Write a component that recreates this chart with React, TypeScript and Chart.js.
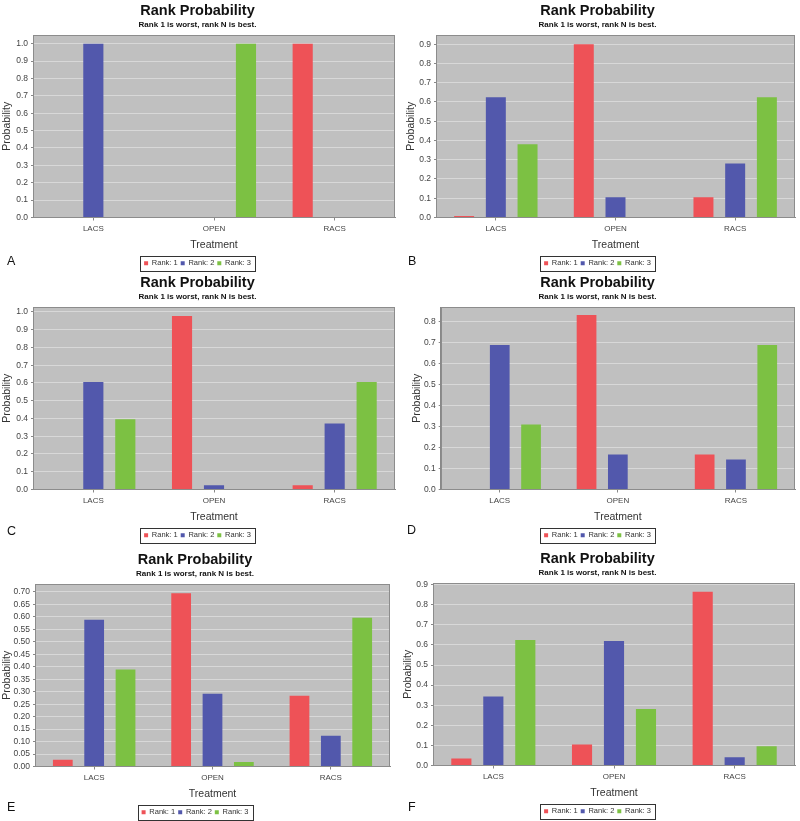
import React, { useEffect, useRef } from 'react';
import { Chart, registerables } from 'chart.js';

Chart.register(...registerables);
Chart.defaults.font.family = "'Liberation Sans', Arial, sans-serif";

const categories = ['LACS', 'OPEN', 'RACS'];
const seriesLabels = ['Rank: 1', 'Rank: 2', 'Rank: 3'];
const seriesColors = ['#EE5257', '#5258AC', '#7CC143'];
const titleText = 'Rank Probability';
const subtitleText = 'Rank 1 is worst, rank N is best.';
const xTitleText = 'Treatment';
const yTitleText = 'Probability';

// Panel A
const aRank1 = [0, 0, 1.0];
const aRank2 = [1.0, 0, 0];
const aRank3 = [0, 1.0, 0];
// Panel B
const bRank1 = [0.008, 0.9, 0.105];
const bRank2 = [0.625, 0.105, 0.28];
const bRank3 = [0.38, 0.003, 0.625];
// Panel C
const cRank1 = [0, 0.978, 0.024];
const cRank2 = [0.606, 0.024, 0.372];
const cRank3 = [0.396, 0, 0.606];
// Panel D
const dRank1 = [0, 0.833, 0.167];
const dRank2 = [0.69, 0.167, 0.143];
const dRank3 = [0.31, 0, 0.69];
// Panel E
const eRank1 = [0.027, 0.695, 0.284];
const eRank2 = [0.589, 0.292, 0.123];
const eRank3 = [0.389, 0.018, 0.597];
// Panel F
const fRank1 = [0.035, 0.104, 0.864];
const fRank2 = [0.343, 0.619, 0.041];
const fRank3 = [0.624, 0.281, 0.096];

const panelLetters = ['A', 'B', 'C', 'D', 'E', 'F'];
const axisMax = [1.05, 0.948, 1.028, 0.871, 0.732, 0.908];
const tickStep = [0.1, 0.1, 0.1, 0.1, 0.05, 0.1];
const tickDecimals = [1, 1, 1, 1, 2, 1];

const panelSeries = [
  [aRank1, aRank2, aRank3],
  [bRank1, bRank2, bRank3],
  [cRank1, cRank2, cRank3],
  [dRank1, dRank2, dRank3],
  [eRank1, eRank2, eRank3],
  [fRank1, fRank2, fRank3],
];

// layout (positions) per panel
const panelBoxes = [
  { x: 0, y: 0, areaLeft: 33, areaRight: 395, yTitleX: 7, letterX: 7, letterY: 254.5 },
  { x: 400, y: 0, areaLeft: 36, areaRight: 395, yTitleX: 11, letterX: 8, letterY: 254.5 },
  { x: 0, y: 272, areaLeft: 33, areaRight: 395, yTitleX: 7, letterX: 7, letterY: 252.5 },
  { x: 400, y: 272, areaLeft: 40.7, areaRight: 395, yTitleX: 17, letterX: 7, letterY: 251.5 },
  { x: 0, y: 549, areaLeft: 35, areaRight: 390, yTitleX: 7, letterX: 7, letterY: 251.5 },
  { x: 400, y: 548, areaLeft: 33, areaRight: 395, yTitleX: 8, letterX: 8, letterY: 252.5 },
];

const CW = 400;
const CH = 272;

const framePlugin = {
  id: 'jfreeFrame',
  beforeDraw(chart: any) {
    const { ctx, chartArea: a } = chart;
    ctx.save();
    ctx.fillStyle = '#C0C0C0';
    ctx.fillRect(a.left, a.top, a.right - a.left, a.bottom - a.top);
    ctx.restore();
  },
  afterDraw(chart: any) {
    const { ctx, chartArea: a } = chart;
    ctx.save();
    ctx.strokeStyle = '#8C8C8C';
    ctx.lineWidth = 1;
    ctx.strokeRect(Math.round(a.left) + 0.5, Math.round(a.top) + 0.5, Math.round(a.right - a.left) - 1, Math.round(a.bottom - a.top) - 1);
    const lg = chart.legend;
    if (lg && lg.legendHitBoxes && lg.legendHitBoxes.length) {
      const hb = lg.legendHitBoxes;
      const l = Math.min(...hb.map((h: any) => h.left));
      const r = Math.max(...hb.map((h: any) => h.left + h.width));
      const t = Math.min(...hb.map((h: any) => h.top));
      const b = Math.max(...hb.map((h: any) => h.top + h.height));
      const cy = (t + b) / 2;
      ctx.strokeStyle = '#333';
      ctx.lineWidth = 1;
      ctx.strokeRect(Math.round(l - 4) + 0.5, Math.round(cy - 7.5) + 0.5, Math.round(r - l + 8), 15);
    }
    ctx.restore();
  },
};

function Panel({ index }: { index: number }) {
  const ref = useRef<HTMLCanvasElement | null>(null);
  const box = panelBoxes[index];
  useEffect(() => {
    if (!ref.current) return;
    const series = panelSeries[index];
    const dec = tickDecimals[index];
    const chart = new Chart(ref.current, {
      type: 'bar',
      data: {
        labels: categories,
        datasets: series.map((vals, i) => ({
          label: seriesLabels[i],
          data: vals,
          backgroundColor: seriesColors[i],
          borderWidth: 0,
          categoryPercentage: 0.795,
          barPercentage: 0.63,
        })),
      },
      options: {
        responsive: false,
        animation: false,
        devicePixelRatio: 1,
        layout: { padding: { left: 0, right: CW - box.areaRight, top: 0, bottom: -5 } },
        plugins: {
          title: {
            display: true,
            text: titleText,
            color: '#111',
            font: { size: 14.5, weight: 'bold' },
            padding: { top: 2.3, bottom: 0.3 },
          },
          subtitle: {
            display: true,
            text: subtitleText,
            color: '#111',
            font: { size: 8, weight: 'bold' },
            padding: { top: 0, bottom: 5.4 },
          },
          legend: {
            display: true,
            position: 'bottom',
            labels: {
              boxWidth: 4,
              boxHeight: 4,
              padding: 3,
              color: '#333',
              font: { size: 7.5 },
            },
          },
          tooltip: { enabled: false },
        },
        scales: {
          x: {
            type: 'category',
            offset: true,
            grid: { display: true, drawOnChartArea: false, offset: false, tickLength: 3, color: '#888' },
            border: { display: true, color: '#888' },
            ticks: { font: { size: 8 }, color: '#444', padding: 3, maxRotation: 0 },
            title: {
              display: true,
              text: xTitleText,
              color: '#333',
              font: { size: 10.5 },
              padding: { top: 0, bottom: 5.2 },
            },
            afterFit: (s: any) => {
              s.height = 39;
            },
          },
          y: {
            min: 0,
            max: axisMax[index],
            ticks: {
              stepSize: tickStep[index],
              maxTicksLimit: 30,
              autoSkip: false,
              includeBounds: false,
              callback: (v: any) => Number(v).toFixed(dec),
              font: { size: 8.5 },
              color: '#444',
              padding: 3,
            },
            grid: { color: '#D8D8D8', lineWidth: 1, tickLength: 2, tickColor: '#888' },
            border: { display: true, color: '#888' },
            title: {
              display: true,
              text: yTitleText,
              color: '#333',
              font: { size: 10.5 },
              padding: { top: Math.max(0, box.yTitleX - 6.3), bottom: 0 },
            },
            afterFit: (s: any) => {
              s.width = box.areaLeft;
            },
          },
        },
      } as any,
      plugins: [framePlugin],
    });
    return () => chart.destroy();
  }, [index]);

  return (
    <div style={{ position: 'absolute', left: box.x, top: box.y, width: CW, height: CH }}>
      <canvas ref={ref} width={CW} height={CH} style={{ display: 'block' }} />
      <div
        style={{
          position: 'absolute',
          left: box.letterX,
          top: box.letterY,
          fontFamily: "'Liberation Sans', Arial, sans-serif",
          fontSize: 12.5,
          lineHeight: '12.5px',
          color: '#111',
        }}
      >
        {panelLetters[index]}
      </div>
    </div>
  );
}

export default function App() {
  return (
    <div style={{ position: 'absolute', left: 0, top: 0, width: 800, height: 821, background: '#fff', overflow: 'hidden' }}>
      {panelLetters.map((_, i) => (
        <Panel key={i} index={i} />
      ))}
    </div>
  );
}
